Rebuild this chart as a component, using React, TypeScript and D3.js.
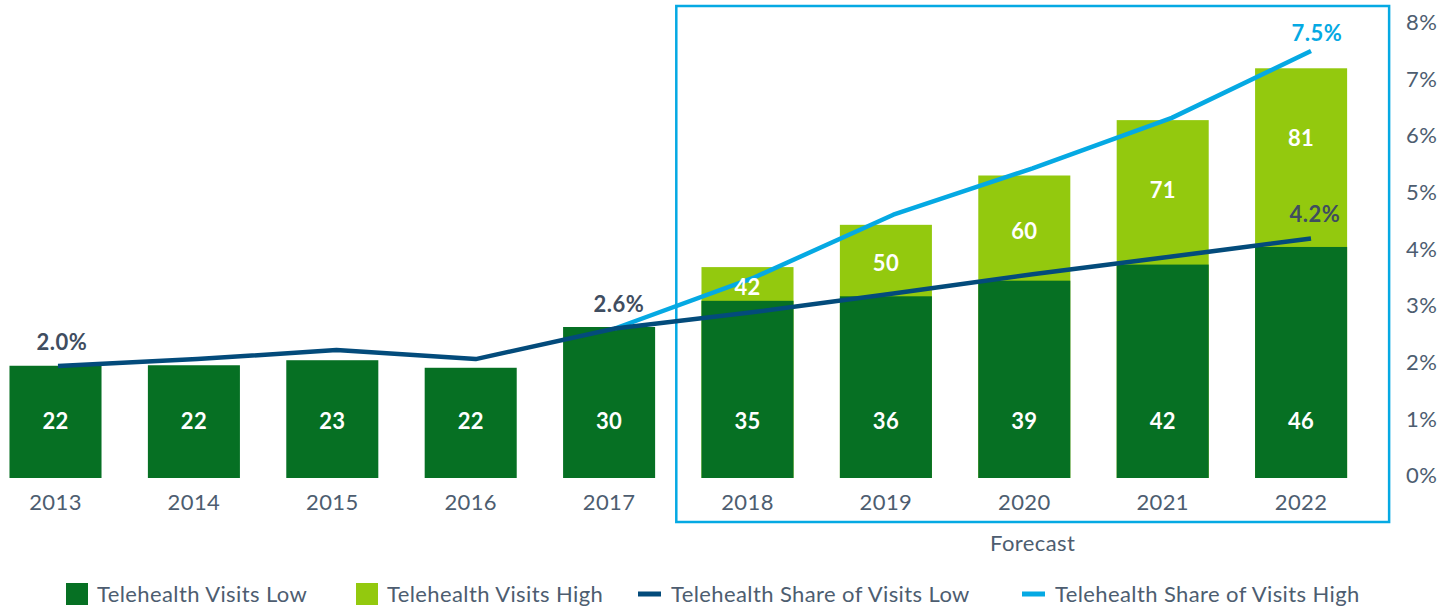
import React from 'react';
import * as d3 from 'd3';

const years = ['2013', '2014', '2015', '2016', '2017', '2018', '2019', '2020', '2021', '2022'];
const visitsLow = [22.3, 22.4, 23.4, 21.9, 30.0, 35.2, 36.1, 39.2, 42.4, 45.9];
const visitsHigh: (number | null)[] = [null, null, null, null, null, 41.9, 50.3, 60.1, 71.1, 81.4];
const shareLow = [1.98, 2.1, 2.26, 2.1, 2.64, 2.93, 3.26, 3.6, 3.91, 4.23];
const shareHigh: (number | null)[] = [null, null, null, null, 2.64, 3.54, 4.65, 5.47, 6.36, 7.54];
const pctTicks = [0, 1, 2, 3, 4, 5, 6, 7, 8];
const shareLowLabelIdx = [0, 4, 9];
const shareHighLabelIdx = [9];
const forecastStart = '2018';
const forecastLabel = 'Forecast';
const legendItems = [
  { label: 'Telehealth Visits Low', kind: 'rect', color: '#067023' },
  { label: 'Telehealth Visits High', kind: 'rect', color: '#93c90e' },
  { label: 'Telehealth Share of Visits Low', kind: 'line', color: '#034b7b' },
  { label: 'Telehealth Share of Visits High', kind: 'line', color: '#05a9e3' },
];

const W = 1454;
const H = 606;
const C = {
  dark: '#067023',
  light: '#93c90e',
  navy: '#034b7b',
  sky: '#05a9e3',
  text: '#4d5d70',
  label: '#3f4d60',
};
const FONT = 'Lato, "Open Sans", sans-serif';
const LS = 0.4;

export default function App() {
  const plotTop = 25;
  const plotBottom = 478;
  const x = d3.scaleBand<string>().domain(years).range([-13.7, 1370.3]).paddingInner(0.335).paddingOuter(0.1675);
  const xl = d3.scalePoint<string>().domain(years).range([58, 1311]);
  const y = d3.scaleLinear().domain([0, 90]).range([plotBottom, plotTop]);
  const yp = d3.scaleLinear().domain([0, 8]).range([plotBottom, plotTop]);
  const bw = x.bandwidth();
  const step = x.step();

  const lineGen = d3
    .line<[string, number | null]>()
    .defined((d) => d[1] != null)
    .x((d) => xl(d[0]) as number)
    .y((d) => yp(d[1] as number));

  const lowPath = lineGen(years.map((yr, i) => [yr, shareLow[i]]));
  const highPath = lineGen(years.map((yr, i) => [yr, shareHigh[i]]));

  const boxLeft = (x(forecastStart) as number) - (step - bw) / 2 - 2;
  const boxRight = (x(years[years.length - 1]) as number) + bw + 42;
  const boxTop = 6;
  const boxBottom = 522;

  const legendX = [66, 356, 638, 1022];

  return (
    <div style={{ position: 'fixed', left: 0, top: 0, width: W, height: H, background: '#fff' }}>
      <svg width={W} height={H} style={{ display: 'block', fontFamily: FONT }}>
        {/* forecast box */}
        <rect
          x={boxLeft}
          y={boxTop}
          width={boxRight - boxLeft}
          height={boxBottom - boxTop}
          fill="none"
          stroke={C.sky}
          strokeWidth={2.5}
        />
        <text
          x={(boxLeft + boxRight) / 2}
          y={543}
          dy="0.35em"
          textAnchor="middle"
          fontSize={22}
          letterSpacing={LS}
          fill={C.text}
        >
          {forecastLabel}
        </text>

        {/* high bars (totals) */}
        {years.map((yr, i) =>
          visitsHigh[i] != null ? (
            <rect
              key={'h' + yr}
              x={x(yr)}
              y={y(visitsHigh[i] as number)}
              width={bw}
              height={plotBottom - y(visitsHigh[i] as number)}
              fill={C.light}
            />
          ) : null
        )}
        {/* low bars */}
        {years.map((yr, i) => (
          <rect
            key={'l' + yr}
            x={x(yr)}
            y={y(visitsLow[i])}
            width={bw}
            height={plotBottom - y(visitsLow[i])}
            fill={C.dark}
          />
        ))}

        {/* lines */}
        <path d={highPath || ''} fill="none" stroke={C.sky} strokeWidth={4.5} strokeLinejoin="round" />
        <path d={lowPath || ''} fill="none" stroke={C.navy} strokeWidth={4.5} strokeLinejoin="round" />

        {/* bar labels */}
        {years.map((yr, i) => (
          <text
            key={'lt' + yr}
            x={(x(yr) as number) + bw / 2}
            y={421}
            dy="0.35em"
            textAnchor="middle"
            fontSize={22}
            fontWeight={700}
            letterSpacing={0.3}
            fill="#fff"
          >
            {Math.round(visitsLow[i])}
          </text>
        ))}
        {years.map((yr, i) =>
          visitsHigh[i] != null ? (
            <text
              key={'ht' + yr}
              x={(x(yr) as number) + bw / 2}
              y={Math.min((y(visitsHigh[i] as number) + y(visitsLow[i])) / 2 + 3, y(visitsHigh[i] as number) + 70)}
              dy="0.35em"
              textAnchor="middle"
              fontSize={22}
              fontWeight={700}
              letterSpacing={0.3}
              fill="#fff"
            >
              {Math.round(visitsHigh[i] as number)}
            </text>
          ) : null
        )}

        {/* share labels */}
        {shareLowLabelIdx.map((i) => (
          <text
            key={'sl' + i}
            x={(xl(years[i]) as number) + 4}
            y={yp(shareLow[i]) - 24}
            dy="0.35em"
            textAnchor="middle"
            fontSize={22}
            fontWeight={700}
            letterSpacing={0.5}
            fill={C.label}
          >
            {shareLow[i].toFixed(1)}%
          </text>
        ))}
        {shareHighLabelIdx.map((i) => (
          <text
            key={'sh' + i}
            x={(xl(years[i]) as number) + 6}
            y={yp(shareHigh[i] as number) - 18}
            dy="0.35em"
            textAnchor="middle"
            fontSize={22}
            fontWeight={700}
            letterSpacing={0.5}
            fill={C.sky}
          >
            {(shareHigh[i] as number).toFixed(1)}%
          </text>
        ))}

        {/* x axis labels */}
        {years.map((yr) => (
          <text
            key={'x' + yr}
            x={(x(yr) as number) + bw / 2}
            y={502}
            dy="0.35em"
            textAnchor="middle"
            fontSize={22}
            letterSpacing={LS}
            fill={C.text}
          >
            {yr}
          </text>
        ))}

        {/* right axis */}
        {pctTicks.map((t) => (
          <text
            key={'p' + t}
            x={1406}
            y={yp(t) - 2.5}
            dy="0.35em"
            textAnchor="start"
            fontSize={22}
            letterSpacing={LS}
            fill={C.text}
          >
            {t}%
          </text>
        ))}

        {/* legend */}
        {legendItems.map((it, i) => (
          <g key={'lg' + i} transform={`translate(${legendX[i]},594)`}>
            {it.kind === 'rect' ? (
              <rect x={0} y={-11} width={22} height={22} fill={it.color} />
            ) : (
              <rect x={0} y={-2.5} width={23} height={5} fill={it.color} />
            )}
            <text
              x={it.kind === 'rect' ? 31 : 33}
              y={0}
              dy="0.35em"
              fontSize={22}
              letterSpacing={LS}
              fill={C.text}
            >
              {it.label}
            </text>
          </g>
        ))}
      </svg>
    </div>
  );
}
